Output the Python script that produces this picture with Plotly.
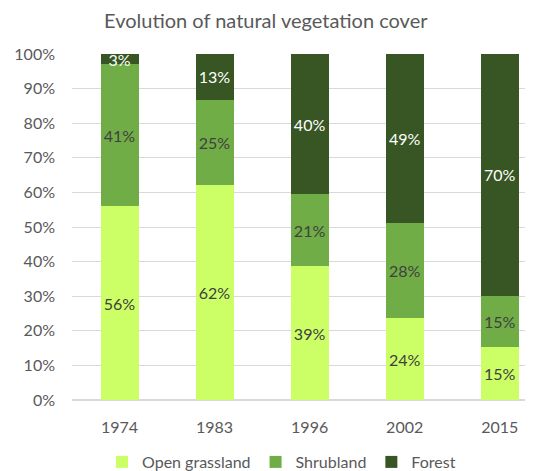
import plotly.graph_objects as go

years = ["1974", "1983", "1996", "2002", "2015"]
grassland = [56, 62, 38.6, 23.6, 15.2]
shrubland = [41, 24.8, 20.9, 27.7, 14.9]
forest = [3, 13.2, 40.5, 48.7, 69.9]

series = [
    ("Open grassland", grassland, "#CCFF66", "#404040"),
    ("Shrubland", shrubland, "#70AD47", "#404040"),
    ("Forest", forest, "#375623", "#FFFFFF"),
]

FONT = "Lato, Open Sans, sans-serif"

fig = go.Figure()
for name, vals, color, tcolor in series:
    fig.add_trace(go.Bar(
        x=years, y=vals, name=name,
        marker=dict(color=color, line=dict(width=0)),
        text=[f"{round(v)}%" for v in vals],
        textposition="inside", insidetextanchor="middle",
        textfont=dict(color=tcolor, size=16, family=FONT),
        constraintext="none",
        cliponaxis=False,
    ))

H = 463
fig.update_layout(
    barmode="stack",
    bargap=0.6,
    width=525, height=H,
    margin=dict(l=64, r=0, t=46, b=71),
    plot_bgcolor="white", paper_bgcolor="white",
    font=dict(family=FONT, color="#595959", size=16),
    uniformtext=dict(minsize=16, mode="show"),
    title=dict(text="Evolution of natural vegetation cover", x=0.491, xref="container",
               xanchor="center", y=1 - 13 / H, yref="container", yanchor="middle",
               font=dict(size=20, color="#595959", family=FONT)),
    xaxis=dict(type="category", range=[-0.5, 4.35], showgrid=False, showline=False,
               ticks="", tickfont=dict(size=16, color="#595959"), ticklabelstandoff=16),
    yaxis=dict(range=[0, 100], dtick=10, ticksuffix="%", showgrid=True,
               gridcolor="#D9D9D9", gridwidth=1, zeroline=True, zerolinecolor="#D9D9D9",
               showline=False, ticks="", tickfont=dict(size=16, color="#595959"),
               ticklabelstandoff=16),
    legend=dict(orientation="h", x=0.521, xref="container", xanchor="center",
                y=9 / H, yref="container", yanchor="middle",
                font=dict(size=16, color="#595959"), traceorder="normal",
                itemwidth=30),
)

fig.write_html("out.html")
